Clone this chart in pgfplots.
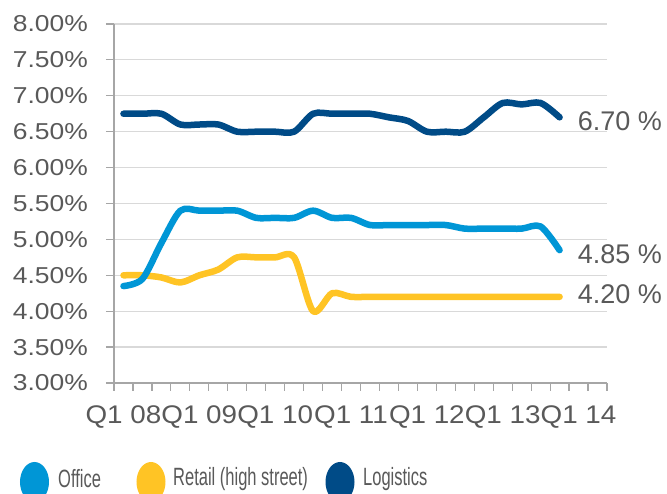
\documentclass[border=0pt]{standalone}
\usepackage{pgfplots}
\usepackage{pgfplotstable}
\pgfplotsset{compat=1.18}
\usepackage{fontspec}
\setmainfont{Liberation Sans}
\newfontfamily\yfont{Liberation Sans}[FakeStretch=1.15]
\newfontfamily\xfont{Liberation Sans}[FakeStretch=1.09]
\newfontfamily\legfont{Liberation Sans}[FakeStretch=0.66]
\definecolor{office}{RGB}{0,150,214}
\definecolor{retail}{RGB}{255,196,37}
\definecolor{logis}{RGB}{0,75,135}
\definecolor{txt}{RGB}{89,89,89}
\definecolor{gridc}{RGB}{217,217,217}
\definecolor{axc}{RGB}{166,166,166}

\pgfplotstableread{
x y
0 4.35
1 4.45
2 4.95
3 5.40
4 5.40
5 5.40
6 5.40
7 5.30
8 5.30
9 5.30
10 5.40
11 5.30
12 5.30
13 5.20
14 5.20
15 5.20
16 5.20
17 5.20
18 5.15
19 5.15
20 5.15
21 5.15
22 5.18
23 4.85
}\officedata

\pgfplotstableread{
x y
0 4.50
1 4.50
2 4.47
3 4.40
4 4.50
5 4.58
6 4.75
7 4.75
8 4.75
9 4.75
10 4.00
11 4.25
12 4.20
13 4.20
14 4.20
15 4.20
16 4.20
17 4.20
18 4.20
19 4.20
20 4.20
21 4.20
22 4.20
23 4.20
}\retaildata

\pgfplotstableread{
x y
0 6.75
1 6.75
2 6.75
3 6.60
4 6.60
5 6.60
6 6.50
7 6.50
8 6.50
9 6.50
10 6.75
11 6.75
12 6.75
13 6.75
14 6.70
15 6.65
16 6.50
17 6.50
18 6.50
19 6.70
20 6.90
21 6.88
22 6.90
23 6.70
}\logisdata

\begin{document}
\begin{tikzpicture}
\path[use as bounding box] (-114pt,-111pt) rectangle (553pt,383pt);
\begin{axis}[
  at={(0pt,0pt)}, anchor=south west,
  scale only axis, width=493pt, height=359pt,
  xmin=-0.5, xmax=25.5, ymin=3, ymax=8,
  axis x line*=bottom, axis y line*=left,
  axis line style={axc, line width=1.2pt, -},
  ytick={3,3.5,4,4.5,5,5.5,6,6.5,7,7.5,8},
  /pgf/number format/assume math mode=true,
  yticklabel={\pgfmathprintnumber[fixed,fixed zerofill,precision=2]{\tick}\%},
  yticklabel style={font=\yfont\fontsize{23}{25}\selectfont, text=txt, inner sep=0pt, anchor=east, xshift=-18pt},
  xtick={-0.5,0.5,...,25.5}, xticklabels={},
  extra x ticks={0,4,8,12,16,20,24},
  extra x tick labels={Q1 08,Q1 09,Q1 10,Q1 11,Q1 12,Q1 13,Q1 14},
  extra x tick style={major tick length=0pt,
     xticklabel style={font=\xfont\fontsize{25.5}{27}\selectfont, text=txt, inner sep=0pt, anchor=north, yshift=-22pt}},
  ymajorgrids, grid style={gridc, line width=1.2pt},
  tick style={axc, line width=1.2pt}, major tick length=8pt, tick align=outside,
  clip=false,
]
\addplot[retail, line width=6.5pt, smooth, line cap=round, line join=round] table {\retaildata};
\addplot[office, line width=6.5pt, smooth, line cap=round, line join=round] table {\officedata};
\addplot[logis, line width=6.5pt, smooth, line cap=round, line join=round] table {\logisdata};
\node[anchor=west, inner sep=0pt, text=txt, font=\fontsize{27}{29}\selectfont] at (axis cs:23,6.65) [xshift=18pt] {6.70 \%};
\node[anchor=west, inner sep=0pt, text=txt, font=\fontsize{27}{29}\selectfont] at (axis cs:23,4.79) [xshift=18pt] {4.85 \%};
\node[anchor=west, inner sep=0pt, text=txt, font=\fontsize{27}{29}\selectfont] at (axis cs:23,4.24) [xshift=18pt] {4.20 \%};
\end{axis}
\begin{scope}
\clip (-114pt,-111pt) rectangle (553pt,383pt);
\fill[office] (-79.5pt,-99pt) ellipse [x radius=14.5pt, y radius=20pt];
\fill[retail] (37pt,-99pt) ellipse [x radius=14.5pt, y radius=20pt];
\fill[logis] (226pt,-99pt) ellipse [x radius=14.5pt, y radius=20pt];
\end{scope}
\node[anchor=west, inner sep=0pt, text=txt, font=\legfont\fontsize{25}{27}\selectfont] at (-56pt,-96pt) {Office};
\node[anchor=west, inner sep=0pt, text=txt, font=\legfont\fontsize{25}{27}\selectfont] at (59pt,-96pt) {Retail (high street)};
\node[anchor=west, inner sep=0pt, text=txt, font=\legfont\fontsize{25}{27}\selectfont] at (249pt,-96pt) {Logistics};
\end{tikzpicture}
\end{document}
